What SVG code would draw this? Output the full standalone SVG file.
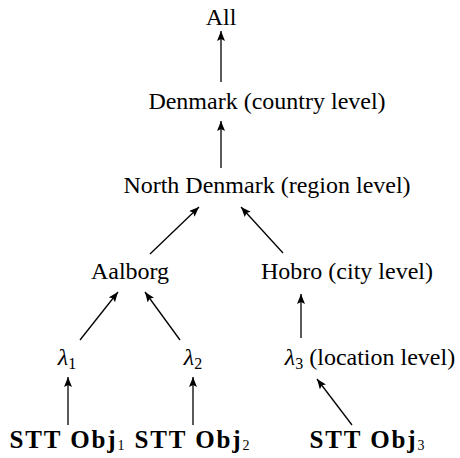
<svg xmlns="http://www.w3.org/2000/svg" width="460" height="458" viewBox="0 0 460 458">
<defs>
<marker id="ah" viewBox="0 0 10 8" refX="10" refY="4" markerWidth="10" markerHeight="8" markerUnits="userSpaceOnUse" orient="auto">
<path d="M0,0 L10,4 L0,8 L2,4 Z" fill="#000"/>
</marker>
</defs>
<style>
text{font-family:"Liberation Serif","DejaVu Serif",serif;font-size:24px;fill:#000;text-anchor:middle}
.b{font-weight:bold;font-size:25px;letter-spacing:1.9px}
.s{font-size:16px;font-weight:normal;letter-spacing:0}
.bs{font-size:14px;font-weight:normal;letter-spacing:0}
line{stroke:#000;stroke-width:1.3;marker-end:url(#ah)}
</style>
<g id="connectors">
<line x1="221" y1="82" x2="221" y2="31"/>
<line x1="221" y1="168" x2="221" y2="121"/>
<line x1="150" y1="254" x2="199" y2="207"/>
<line x1="283" y1="253" x2="241" y2="207"/>
<line x1="80" y1="340" x2="118" y2="292"/>
<line x1="180" y1="340" x2="145" y2="292"/>
<line x1="301" y1="338" x2="301" y2="294"/>
<line x1="68" y1="425" x2="68" y2="377"/>
<line x1="193" y1="425" x2="193" y2="377"/>
<line x1="352" y1="425" x2="317" y2="379"/>
</g>
<g id="all"><text x="221" y="25">All</text></g>
<g id="denmark"><text x="267" y="109">Denmark (country level)</text></g>
<g id="northdenmark"><text x="267" y="193">North Denmark (region level)</text></g>
<g id="aalborg"><text x="130" y="279">Aalborg</text></g>
<g id="hobro"><text x="347" y="279">Hobro (city level)</text></g>
<g id="lambda1"><text x="67" y="365"><tspan font-style="italic">λ</tspan><tspan class="s" dy="4">1</tspan></text></g>
<g id="lambda2"><text x="193" y="365"><tspan font-style="italic">λ</tspan><tspan class="s" dy="4">2</tspan></text></g>
<g id="lambda3"><text x="370" y="365"><tspan font-style="italic">λ</tspan><tspan class="s" dy="4">3</tspan><tspan dy="-4"> (location level)</tspan></text></g>
<g id="stt1"><text x="67" y="448" class="b">STT Obj<tspan class="bs" dy="2">1</tspan></text></g>
<g id="stt2"><text x="192" y="448" class="b">STT Obj<tspan class="bs" dy="2">2</tspan></text></g>
<g id="stt3"><text x="367" y="448" class="b">STT Obj<tspan class="bs" dy="2">3</tspan></text></g>
</svg>
